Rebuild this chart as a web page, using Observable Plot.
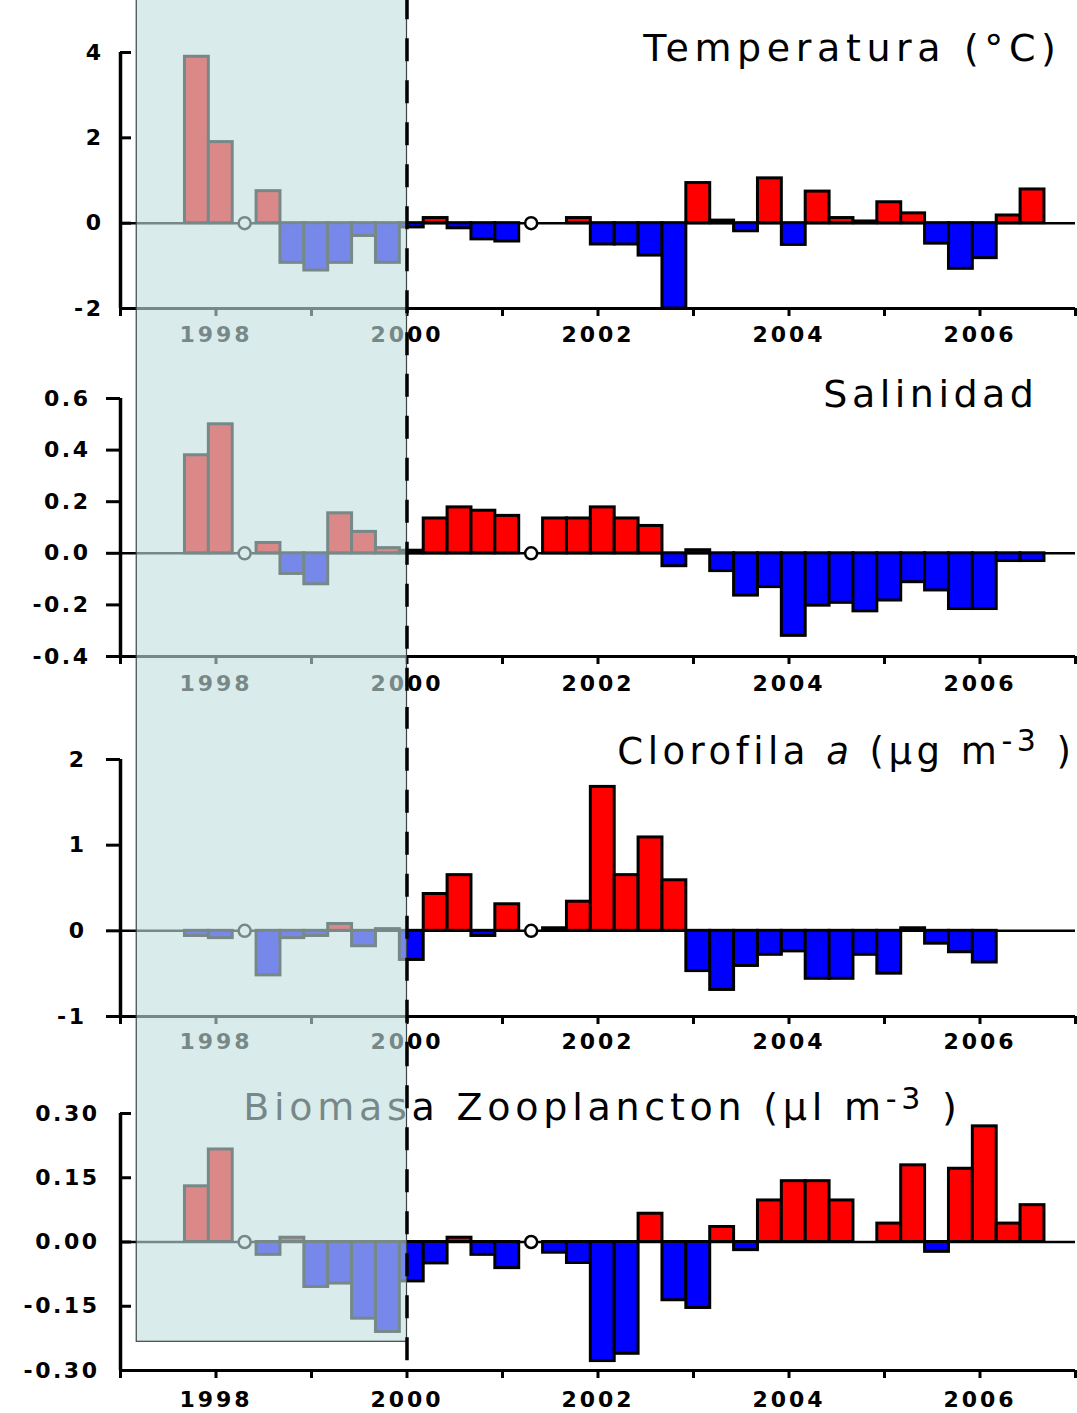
<!DOCTYPE html>
<html>
<head>
<meta charset="utf-8">
<script src="https://cdn.jsdelivr.net/npm/d3@7"></script>
<script src="https://cdn.jsdelivr.net/npm/@observablehq/plot@0.6"></script>
<style>
  body { margin: 0; background: #fff; color: #000; }
  #chart { width: 1077px; height: 1413px; position: relative; overflow: hidden; }
  #chart svg { display: block; }
  g[aria-label="x-axis tick label"] text { letter-spacing: 3px; }
  g[aria-label="y-axis tick label"] text { letter-spacing: 2.5px; }
</style>
</head>
<body>
<div id="chart"></div>
<script>
// ---------- DATA ----------
const periods = [
  "1997-Q4",
  "1998-Q1","1998-Q2","1998-Q3","1998-Q4",
  "1999-Q1","1999-Q2","1999-Q3","1999-Q4",
  "2000-Q1","2000-Q2","2000-Q3","2000-Q4",
  "2001-Q1","2001-Q2","2001-Q3","2001-Q4",
  "2002-Q1","2002-Q2","2002-Q3","2002-Q4",
  "2003-Q1","2003-Q2","2003-Q3","2003-Q4",
  "2004-Q1","2004-Q2","2004-Q3","2004-Q4",
  "2005-Q1","2005-Q2","2005-Q3","2005-Q4",
  "2006-Q1","2006-Q2","2006-Q3"
];
const missingPeriods = ["1998-Q2", "2001-Q2"];

const temperatura = [3.9, 1.9, null, 0.75, -0.93, -1.11, -0.93, -0.30, -0.93, -0.10, 0.12, -0.12, -0.38, -0.43, null, 0, 0.12, -0.50, -0.50, -0.76, -2.0, 0.94, 0.06, -0.19, 1.05, -0.51, 0.74, 0.12, 0.04, 0.49, 0.23, -0.48, -1.07, -0.82, 0.18, 0.79];
const salinidad = [0.38, 0.50, null, 0.04, -0.08, -0.12, 0.155, 0.083, 0.02, 0.01, 0.135, 0.178, 0.165, 0.145, null, 0.135, 0.135, 0.178, 0.135, 0.106, -0.05, 0.012, -0.069, -0.164, -0.131, -0.32, -0.203, -0.192, -0.225, -0.183, -0.112, -0.144, -0.216, -0.216, -0.03, -0.03];
const clorofila = [-0.06, -0.085, null, -0.52, -0.085, -0.06, 0.08, -0.18, 0.02, -0.34, 0.43, 0.65, -0.06, 0.31, null, 0.03, 0.34, 1.68, 0.65, 1.09, 0.59, -0.47, -0.69, -0.41, -0.28, -0.24, -0.56, -0.56, -0.28, -0.50, 0.03, -0.15, -0.25, -0.37, 0, 0];
const zooplancton = [0.13, 0.216, null, -0.03, 0.01, -0.105, -0.097, -0.179, -0.21, -0.092, -0.05, 0.01, -0.03, -0.061, null, -0.025, -0.049, -0.278, -0.261, 0.066, -0.136, -0.154, 0.035, -0.019, 0.097, 0.142, 0.142, 0.097, 0, 0.043, 0.179, -0.023, 0.171, 0.27, 0.043, 0.086];

const xTicks = [1997, 1998, 1999, 2000, 2001, 2002, 2003, 2004, 2005, 2006, 2007];
const xTickLabels = ["", "1998", "", "2000", "", "2002", "", "2004", "", "2006", ""];

const tempTicks = [-2, 0, 2, 4];
const tempLabels = ["-2", "0", "2", "4"];
const salTicks = [-0.4, -0.2, 0, 0.2, 0.4, 0.6];
const salLabels = ["-0.4", "-0.2", "0.0", "0.2", "0.4", "0.6"];
const chlTicks = [-1, 0, 1, 2];
const chlLabels = ["-1", "0", "1", "2"];
const zooTicks = [-0.3, -0.15, 0, 0.15, 0.3];
const zooLabels = ["-0.30", "-0.15", "0.00", "0.15", "0.30"];

const tempTitle = [{t: "Temperatura (°C)"}];
const salTitle = [{t: "Salinidad"}];
const chlTitle = [{t: "Clorofila "}, {t: "a", italic: true}, {t: " (µg m"}, {t: "-3", sup: true}, {t: " )"}];
const zooTitle = [{t: "Biomasa Zooplancton (µl m"}, {t: "-3", sup: true}, {t: " )"}];

// shaded period (1997 – 2000)
const shadeStart = 1997.17, shadeEnd = 2000;

// ---------- HELPERS ----------
const FONT = "DejaVu Sans";
const SHADE = "rgb(195,223,223)";
const pos = p => { const [y, q] = p.split("-Q"); return +y + (q - 1) * 0.25 + 0.05; };

function styleTitle(svg, parts, spacing, supShift, supSize) {
  const full = parts.map(d => d.t).join("");
  const el = [...svg.querySelectorAll("text")].find(e => e.textContent === full);
  if (!el) return;
  el.style.letterSpacing = spacing + "px";
  el.textContent = "";
  let shifted = false;
  for (const p of parts) {
    const ts = document.createElementNS("http://www.w3.org/2000/svg", "tspan");
    ts.textContent = p.t;
    if (p.italic) ts.setAttribute("font-style", "italic");
    if (p.sup) { ts.setAttribute("dy", -supShift); ts.setAttribute("font-size", supSize); shifted = true; }
    else if (shifted) { ts.setAttribute("dy", supShift); shifted = false; }
    el.appendChild(ts);
  }
}

function panel(cfg) {
  const data = periods.map((p, i) => ({p, x: pos(p), v: cfg.values[i]})).filter(d => d.v != null);
  const miss = missingPeriods.map(p => ({x: pos(p)}));
  const xLab = new Map(xTicks.map((t, i) => [t, xTickLabels[i]]));
  const yLab = new Map(cfg.yTicks.map((t, i) => [t, cfg.yLabels[i]]));
  const titleText = cfg.title.map(d => d.t).join("");
  const yAxes = cfg.tickDir === "in"
    ? [
        Plot.axisY({ticks: cfg.yTicks, tickSize: 11, dx: 11, tickFormat: () => "", strokeWidth: 3}),
        Plot.axisY({ticks: cfg.yTicks, tickSize: 0, tickPadding: cfg.labelPad, tickFormat: d => yLab.get(d),
                    fontSize: 22, fontWeight: "bold", fontFamily: FONT, fill: "black"})
      ]
    : [
        Plot.axisY({ticks: cfg.yTicks, tickSize: 14, tickPadding: cfg.labelPad, tickFormat: d => yLab.get(d),
                    fontSize: 22, fontWeight: "bold", fontFamily: FONT, strokeWidth: 3, fill: "black"})
      ];
  const svg = Plot.plot({
    width: 1077,
    height: cfg.height,
    marginLeft: 120, marginRight: 2, marginTop: cfg.mt, marginBottom: cfg.mb,
    x: {domain: [1997, 2007]},
    y: {domain: cfg.yDomain},
    color: {type: "identity"},
    style: {fontFamily: FONT, background: "white", overflow: "hidden", color: "black"},
    marks: [
      Plot.text([titleText], {text: d => d, frameAnchor: "top-right", textAnchor: "end", lineAnchor: "bottom",
        dx: cfg.titleDx, dy: cfg.titleDy, fontSize: cfg.titleSize, fontFamily: FONT, fill: "black"}),
      Plot.ruleY([0], {stroke: "black", strokeWidth: 2.5}),
      Plot.rect(data, {x1: d => d.x - 0.125, x2: d => d.x + 0.125, y1: 0, y2: d => d.v,
        fill: d => d.v >= 0 ? "#ff0000" : "#0000ff", stroke: "black", strokeWidth: 3}),
      Plot.dot(miss, {x: "x", y: 0, r: 6, fill: "white", stroke: "black", strokeWidth: 2.5}),
      Plot.ruleY([cfg.yDomain[0]], {stroke: "black", strokeWidth: 3}),
      Plot.ruleX([1997], {stroke: "black", strokeWidth: 3.5}),
      Plot.axisX({ticks: xTicks, tickSize: 8, tickPadding: cfg.xPad, tickFormat: d => xLab.get(d),
        fontSize: 22, fontWeight: "bold", fontFamily: FONT, strokeWidth: 3, fill: "black"}),
      ...yAxes,
      Plot.rect([{x1: shadeStart, x2: shadeEnd}], {x1: "x1", x2: "x2", y1: cfg.shadeY[0], y2: cfg.shadeY[1],
        fill: SHADE, fillOpacity: 0.61, stroke: "#3a4444", strokeWidth: 1.2}),
      Plot.ruleX([shadeEnd], {y1: cfg.dashY[0], y2: cfg.dashY[1], stroke: "black", strokeWidth: 3.5, strokeDasharray: "23,19"})
    ]
  });
  styleTitle(svg, cfg.title, cfg.titleSpacing, cfg.supShift || 13, cfg.supSize || 30);
  return svg;
}

const panels = [
  {values: temperatura, yDomain: [-2, 4], yTicks: tempTicks, yLabels: tempLabels, title: tempTitle,
   height: 362, mt: 52, mb: 54, tickDir: "in", labelPad: 17, xPad: 10,
   titleDx: -14, titleDy: 8, titleSize: 38, titleSpacing: 5.6, shadeY: [-10, 10], dashY: [-10, 10]},
  {values: salinidad, yDomain: [-0.4, 0.6], yTicks: salTicks, yLabels: salLabels, title: salTitle,
   height: 345, mt: 36, mb: 51, tickDir: "out", labelPad: 16, xPad: 11,
   titleDx: -37, titleDy: 8, titleSize: 38, titleSpacing: 4.5, shadeY: [-2, 2], dashY: [-2, 2]},
  {values: clorofila, yDomain: [-1, 2], yTicks: chlTicks, yLabels: chlLabels, title: chlTitle,
   height: 353, mt: 52, mb: 44, tickDir: "out", labelPad: 20, xPad: 9,
   titleDx: 0, titleDy: 4, titleSize: 37, titleSpacing: 4.5, shadeY: [-5, 5], dashY: [-5, 5], supShift: 13, supSize: 30},
  {values: zooplancton, yDomain: [-0.3, 0.3], yTicks: zooTicks, yLabels: zooLabels, title: zooTitle,
   height: 353, mt: 53, mb: 43, tickDir: "in", labelPad: 21, xPad: 13,
   titleDx: -114, titleDy: 6, titleSize: 38, titleSpacing: 4.75, shadeY: [-0.233, 1], dashY: [-0.277, 1], supShift: 11, supSize: 30}
];

const chart = document.getElementById("chart");
for (const cfg of panels) chart.appendChild(panel(cfg));
</script>
</body>
</html>
